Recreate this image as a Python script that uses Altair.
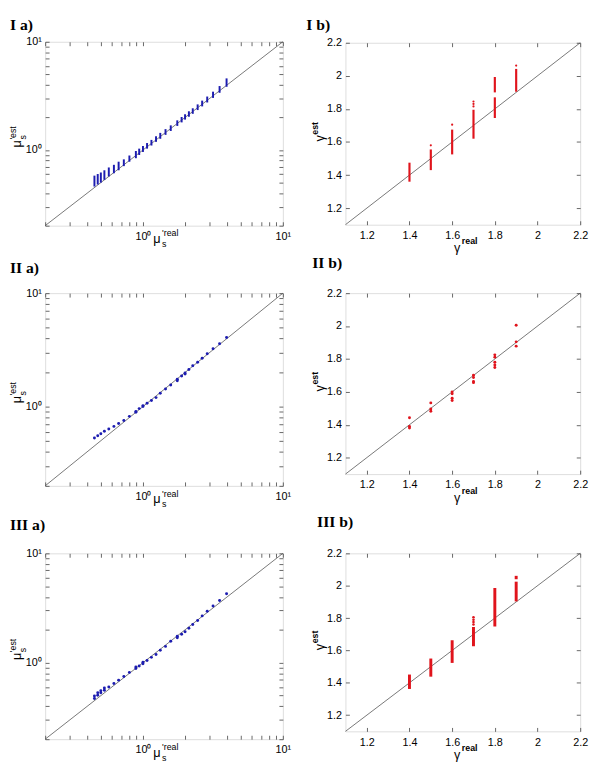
import altair as alt
import pandas as pd

# ---------------- data ----------------
# Panels "a": reduced scattering coefficient, log-log
mu_real = [0.45, 0.475, 0.5, 0.53, 0.57, 0.62, 0.67, 0.73, 0.8, 0.89, 0.94, 1.0, 1.07, 1.15,
           1.24, 1.33, 1.45, 1.58, 1.76, 1.89, 2.0, 2.13, 2.27, 2.46, 2.65, 2.88, 3.17, 3.53, 3.96]

mu_est_I_lo = [0.46, 0.48, 0.50, 0.53, 0.57, 0.61, 0.65, 0.71, 0.78, 0.84, 0.90, 0.96, 1.03, 1.10,
               1.19, 1.27, 1.38, 1.50, 1.67, 1.80, 1.91, 2.03, 2.16, 2.34, 2.53, 2.75, 3.03, 3.38, 3.84]
mu_est_I_hi = [0.58, 0.60, 0.62, 0.65, 0.69, 0.73, 0.78, 0.82, 0.89, 0.98, 1.03, 1.09, 1.16, 1.24,
               1.34, 1.44, 1.56, 1.69, 1.88, 2.02, 2.14, 2.28, 2.43, 2.64, 2.86, 3.12, 3.46, 3.90, 4.59]

mu_est_II = [0.528, 0.553, 0.575, 0.607, 0.635, 0.669, 0.710, 0.753, 0.82, 0.89, 0.96, 1.0, 1.07, 1.13,
             1.2, 1.31, 1.43, 1.55, 1.69, 1.86, 1.94, 2.12, 2.29, 2.46, 2.67, 2.92, 3.23, 3.58, 4.06]
mu_II_extra_real = [0.89, 1.0, 1.76, 2.0]
mu_II_extra_est = [0.906, 1.02, 1.74, 1.98]

mu_est_III = [0.471, 0.504, 0.532, 0.561, 0.601, 0.647, 0.693, 0.747, 0.816, 0.885, 0.935, 0.98, 1.05, 1.12,
              1.19, 1.30, 1.41, 1.57, 1.69, 1.82, 1.92, 2.07, 2.24, 2.43, 2.68, 2.96, 3.30, 3.71, 4.28]
mu_III_extra_real = [0.45, 0.475, 0.5, 0.53, 0.89, 1.0, 1.76]
mu_III_extra_est = [0.497, 0.532, 0.554, 0.589, 0.916, 1.01, 1.75]

# Panels "b": gamma, linear
g_I_seg_real = [1.4, 1.5, 1.6, 1.7, 1.8, 1.8, 1.9]
g_I_seg_lo = [1.36, 1.43, 1.525, 1.62, 1.745, 1.90, 1.904]
g_I_seg_hi = [1.475, 1.555, 1.675, 1.795, 1.87, 1.993, 2.042]
g_I_dot_real = [1.5, 1.6, 1.7, 1.7, 1.7, 1.9]
g_I_dot_est = [1.58, 1.705, 1.815, 1.83, 1.845, 2.062]

g_II_real = [1.4, 1.4, 1.4, 1.5, 1.5, 1.5, 1.6, 1.6, 1.6, 1.6, 1.7, 1.7, 1.7, 1.7,
             1.8, 1.8, 1.8, 1.8, 1.8, 1.9, 1.9, 1.9]
g_II_est = [1.443, 1.39, 1.38, 1.533, 1.496, 1.482, 1.600, 1.589, 1.561, 1.547, 1.701, 1.687, 1.663, 1.656,
            1.825, 1.811, 1.780, 1.764, 1.748, 2.005, 1.904, 1.878]

g_III_seg_real = [1.4, 1.5, 1.6, 1.7, 1.8, 1.9, 1.9]
g_III_seg_lo = [1.362, 1.438, 1.523, 1.626, 1.748, 1.903, 2.04]
g_III_seg_hi = [1.451, 1.550, 1.663, 1.745, 1.986, 2.025, 2.061]
g_III_dot_real = [1.7, 1.7, 1.7, 1.7]
g_III_dot_est = [1.76, 1.775, 1.79, 1.805]

log_diag = [0.2, 10]
lin_diag = [1.1, 2.2]
log_ticks = [0.2, 0.3, 0.4, 0.5, 0.6, 0.7, 0.8, 0.9, 1, 2, 3, 4, 5, 6, 7, 8, 9, 10]
lin_ticks = [1.2, 1.4, 1.6, 1.8, 2.0, 2.2]

# ---------------- styling ----------------
BLUE = "#1c1cb0"
RED = "#e0141c"
TICK = "#404040"
SANS = "Liberation Sans"
SERIF = "Liberation Serif"
LOG_LABEL = "datum.value == 1 ? '10\u2070' : (datum.value == 10 ? '10\u00b9' : '')"


def axes(kind):
    if kind == "log":
        scale = alt.Scale(type="log", domain=[0.2, 10], nice=False)
        vals = log_ticks
        lab = dict(labelExpr=LOG_LABEL)
    else:
        scale = alt.Scale(domain=[1.1, 2.2], nice=False, zero=False)
        vals = lin_ticks
        lab = dict(format=".1~f")
    base = dict(values=vals, tickSize=4, offset=-4, domain=False, grid=False, title=None,
                tickColor=TICK, tickWidth=0.8, labelFlush=False, labelOverlap=False,
                labelFont=SANS, labelFontSize=11, labelColor="black")
    xb = alt.Axis(orient="bottom", labelPadding=5, **base, **lab)
    yl = alt.Axis(orient="left", labelPadding=4, **base, **lab)
    xt = alt.Axis(orient="top", labels=False, **base)
    yr = alt.Axis(orient="right", labels=False, **base)
    return scale, xb, yl, xt, yr


def txt(s, x, y, size=13, angle=0, weight="normal", font=SANS, baseline="alphabetic"):
    return alt.Chart(alt.Data(values=[{}])).mark_text(
        text=s, fontSize=size, angle=angle, fontWeight=weight, font=font,
        align="left", baseline=baseline, color="black"
    ).encode(x=alt.value(x), y=alt.value(y))


def title_txt(s, x, y):
    return txt(s, x, y, size=16, weight="bold", font=SERIF, baseline="top")


def diag_layer(kind, scale, xb, yl):
    d = log_diag if kind == "log" else lin_diag
    df = pd.DataFrame({"r": d, "e": d})
    return alt.Chart(df).mark_line(color="#555555", strokeWidth=0.8).encode(
        x=alt.X("r:Q", scale=scale, axis=xb), y=alt.Y("e:Q", scale=scale, axis=yl))


def mu_texts(W, H, title, tx, ty):
    cx, cy = W / 2, H / 2
    return [
        title_txt(title, tx, ty),
        txt("\u03bc", cx - 11, H + 18, 13),
        txt("'real", cx - 2, H + 11, 9),
        txt("s", cx - 2, H + 22, 9),
        txt("\u03bc", -25, cy + 14, 13, angle=270),
        txt("'est", -30, cy + 6, 9, angle=270),
        txt("s", -20, cy + 6, 9, angle=270),
    ]


def g_texts(W, H, title, tx, ty):
    cx, cy = W / 2, H / 2
    return [
        title_txt(title, tx, ty),
        txt("\u03b3", cx - 9, H + 28, 13),
        txt("real", cx - 1, H + 20, 9, weight="bold"),
        txt("\u03b3", -22, cy + 8, 13, angle=270),
        txt("est", -28, cy + 1, 9, angle=270, weight="bold"),
    ]


def finish(layers, W, H):
    return alt.layer(*layers).resolve_axis(x="independent", y="independent").properties(
        width=W, height=H)


WL, WR = 243, 240
H_Ia, H_Ib = 188, 186
H_IIa, H_IIb = 197, 185
H_IIIa, H_IIIb = 190, 182

# ---- I a ----
sc, xb, yl, xt, yr = axes("log")
dfIa = pd.DataFrame({"r": mu_real, "lo": mu_est_I_lo, "hi": mu_est_I_hi})
pIa = finish([
    diag_layer("log", sc, xb, yl),
    alt.Chart(dfIa).mark_rule(color=BLUE, strokeWidth=2).encode(
        x=alt.X("r:Q", scale=sc, axis=xt), y=alt.Y("lo:Q", scale=sc, axis=yr), y2="hi:Q"),
] + mu_texts(WL, H_Ia, "I a)", -36, -25), WL, H_Ia)

# ---- I b ----
sc, xb, yl, xt, yr = axes("lin")
dfIb = pd.DataFrame({"r": g_I_seg_real, "lo": g_I_seg_lo, "hi": g_I_seg_hi})
dfIbd = pd.DataFrame({"r": g_I_dot_real, "e": g_I_dot_est})
pIb = finish([
    diag_layer("lin", sc, xb, yl),
    alt.Chart(dfIb).mark_rule(color=RED, strokeWidth=2.2).encode(
        x=alt.X("r:Q", scale=sc, axis=xt), y=alt.Y("lo:Q", scale=sc, axis=yr), y2="hi:Q"),
    alt.Chart(dfIbd).mark_circle(color=RED, size=5, opacity=1).encode(
        x=alt.X("r:Q", scale=sc, axis=None), y=alt.Y("e:Q", scale=sc, axis=None)),
] + g_texts(WR, H_Ib, "I b)", -40, -26), WR, H_Ib)

# ---- II a ----
sc, xb, yl, xt, yr = axes("log")
dfIIa = pd.DataFrame({"r": mu_real + mu_II_extra_real, "e": mu_est_II + mu_II_extra_est})
pIIa = finish([
    diag_layer("log", sc, xb, yl),
    alt.Chart(dfIIa).mark_circle(color=BLUE, size=9, opacity=1).encode(
        x=alt.X("r:Q", scale=sc, axis=xt), y=alt.Y("e:Q", scale=sc, axis=yr)),
] + mu_texts(WL, H_IIa, "II a)", -36, -34), WL, H_IIa)

# ---- II b ----
sc, xb, yl, xt, yr = axes("lin")
dfIIb = pd.DataFrame({"r": g_II_real, "e": g_II_est})
pIIb = finish([
    diag_layer("lin", sc, xb, yl),
    alt.Chart(dfIIb).mark_circle(color=RED, size=9, opacity=1).encode(
        x=alt.X("r:Q", scale=sc, axis=xt), y=alt.Y("e:Q", scale=sc, axis=yr)),
] + g_texts(WR, H_IIb, "II b)", -34, -39), WR, H_IIb)

# ---- III a ----
sc, xb, yl, xt, yr = axes("log")
dfIIIa = pd.DataFrame({"r": mu_real + mu_III_extra_real, "e": mu_est_III + mu_III_extra_est})
pIIIa = finish([
    diag_layer("log", sc, xb, yl),
    alt.Chart(dfIIIa).mark_circle(color=BLUE, size=9, opacity=1).encode(
        x=alt.X("r:Q", scale=sc, axis=xt), y=alt.Y("e:Q", scale=sc, axis=yr)),
] + mu_texts(WL, H_IIIa, "III a)", -36, -37), WL, H_IIIa)

# ---- III b ----
sc, xb, yl, xt, yr = axes("lin")
dfIIIb = pd.DataFrame({"r": g_III_seg_real, "lo": g_III_seg_lo, "hi": g_III_seg_hi})
dfIIIbd = pd.DataFrame({"r": g_III_dot_real, "e": g_III_dot_est})
pIIIb = finish([
    diag_layer("lin", sc, xb, yl),
    alt.Chart(dfIIIb).mark_rule(color=RED, strokeWidth=3).encode(
        x=alt.X("r:Q", scale=sc, axis=xt), y=alt.Y("lo:Q", scale=sc, axis=yr), y2="hi:Q"),
    alt.Chart(dfIIIbd).mark_circle(color=RED, size=7, opacity=1).encode(
        x=alt.X("r:Q", scale=sc, axis=None), y=alt.Y("e:Q", scale=sc, axis=None)),
] + g_texts(WR, H_IIIb, "III b)", -29, -40), WR, H_IIIb)

chart = alt.concat(pIa, pIb, pIIa, pIIb, pIIIa, pIIIb, columns=2).properties(
    bounds="flush", center=True, spacing={"row": 69, "column": 64}, padding=0
).configure_view(stroke="#404040", strokeWidth=1).configure(background="white")

chart.save("out.html", embed_options={"renderer": "svg", "actions": False})
